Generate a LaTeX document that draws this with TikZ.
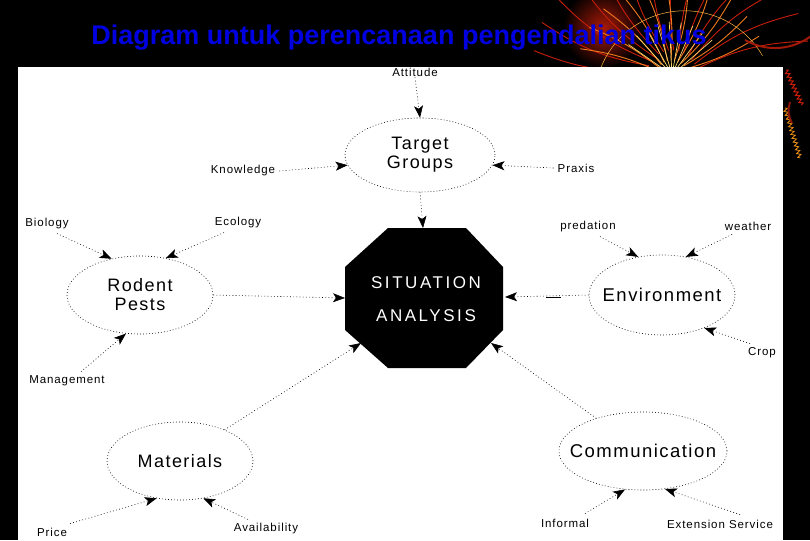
\documentclass[tikz,border=0pt]{standalone}
\usepackage{fontspec}
\setmainfont{Liberation Sans}
\newfontfamily\diagfont[LetterSpace=8]{Liberation Sans}
\newfontfamily\octfont[LetterSpace=15]{Liberation Sans}
\usetikzlibrary{shapes.geometric,arrows.meta,decorations.pathmorphing}
\definecolor{titleblue}{RGB}{0,0,225}
\definecolor{fwred}{RGB}{200,30,10}
\definecolor{fworange}{RGB}{240,120,30}
\definecolor{fwyellow}{RGB}{250,215,110}
\tikzset{
  lbl/.style={font=\diagfont\fontsize{11.5}{13}\selectfont, inner sep=1pt},
  bubble/.style={ellipse, draw=black, line width=0.6pt, dash pattern=on 0.8pt off 2.2pt,
    inner sep=0pt},
  btext/.style={font=\diagfont\fontsize{18}{21}\selectfont, align=center, inner sep=0pt},
  conn/.style={black, line width=0.6pt, dash pattern=on 0.8pt off 2.4pt,
    -{Stealth[length=12pt,width=9pt,inset=3pt]}},
  ray/.style={line width=0.9pt, line cap=round}
}
\begin{document}
\begin{tikzpicture}[x=1pt,y=-1pt]
\useasboundingbox (0,0) rectangle (810,540);
\fill[black] (0,0) rectangle (810,540);
% firework decoration (top right)
\shade[inner color=fwred!85!black, outer color=black] (603,28) circle (40);
\foreach \a in {190,202,...,350}{
  \draw[ray, fwred] (672,75) ++(\a:25) to[bend left=12] ++(\a:115);
}
\foreach \a in {196,210,...,344}{
  \draw[ray, fworange] (672,75) ++(\a:15) to[bend right=8] ++(\a:80);
}
\foreach \a in {215,228,...,325}{
  \draw[ray, fwyellow, line width=0.7pt] (672,75) ++(\a:8) -- ++(\a:45);
}
\draw[fwyellow!60!orange, line width=0.5pt] (600,70) arc (200:330:90);
\draw[fwred!80!black, line width=2pt] (745,40) arc (120:40:60);
% white panel
\fill[white] (18,67) rectangle (783,540);
% right edge squiggles
\draw[fwred, line width=1pt, decorate, decoration={zigzag, segment length=4pt, amplitude=2pt}] (786,70) -- (802,105);
\draw[fworange!80!yellow, line width=0.8pt, decorate, decoration={zigzag, segment length=4pt, amplitude=2pt}] (785,108) -- (800,158);
\draw[fwred!70!black, line width=2pt] (790,102) arc (200:150:25);
% title
\node[font=\fontsize{27}{30}\selectfont\bfseries, text=titleblue, anchor=base] (title) at (399,45) {Diagram untuk perencanaan pengendalian tikus};

% central octagon
\coordinate (o1) at (388,228); \coordinate (o2) at (466,228);
\coordinate (o3) at (503,267); \coordinate (o4) at (503,330);
\coordinate (o5) at (466,368); \coordinate (o6) at (388,368);
\coordinate (o7) at (345,330); \coordinate (o8) at (345,267);
\fill[black] (o1) -- (o2) -- (o3) -- (o4) -- (o5) -- (o6) -- (o7) -- (o8) -- cycle;
\node[font=\octfont\fontsize{17}{20}\selectfont, text=white] (sit) at (426,283) {SITUATION};
\node[font=\octfont\fontsize{17}{20}\selectfont, text=white] (ana) at (426,316) {ANALYSIS};
\coordinate (otop) at (423,228);
\coordinate (oleft) at (345,298);
\coordinate (oright) at (505,297);
\coordinate (osw) at (361,343);
\coordinate (ose) at (491,343);

% bubbles
\node[bubble, minimum width=150pt, minimum height=74pt] (tg) at (420,155) {};
\node[btext] (tgt) at (tg.center) {Target\\[-2pt]Groups};
\node[bubble, minimum width=146pt, minimum height=78pt] (rp) at (140,295) {};
\node[btext] (rpt) at (rp.center) {Rodent\\[-2pt]Pests};
\node[bubble, minimum width=146pt, minimum height=80pt] (env) at (662,295) {};
\node[btext, font=\diagfont\fontsize{18.5}{20}\selectfont] (envt) at (env.center) {Environment};
\node[bubble, minimum width=146pt, minimum height=78pt] (mat) at (180,461) {};
\node[btext, font=\diagfont\fontsize{18}{20}\selectfont] (matt) at (mat.center) {Materials};
\node[bubble, minimum width=168pt, minimum height=78pt] (com) at (643,451) {};
\node[btext, font=\diagfont\fontsize{18.5}{20}\selectfont] (comt) at (com.center) {Communication};

% labels
\node[lbl] (att) at (415,72) {Attitude};
\node[lbl] (know) at (243,171) {Knowledge};
\node[lbl] (prax) at (576,168) {Praxis};
\node[lbl] (bio) at (47,224) {Biology};
\node[lbl] (eco) at (238,223) {Ecology};
\node[lbl] (mgmt) at (67,381) {Management};
\node[lbl] (pred) at (588,227) {predation};
\node[lbl] (weath) at (748,226) {weather};
\node[lbl] (crop) at (762,353) {Crop};
\node[lbl] (price) at (52,532) {Price};
\node[lbl] (avail) at (266,529) {Availability};
\node[lbl] (inf) at (565,523) {Informal};
\node[lbl] (ext) at (720,524) {Extension Service};

% connectors
\draw[conn] (att.south) -- (tg.north);
\draw[conn] ([xshift=3pt]know.east) -- (tg.188);
\draw[conn] ([xshift=-3pt]prax.west) -- (tg.352);
\draw[conn] (tg.south) -- (otop);
\draw[conn] ([xshift=10pt,yshift=-3pt]bio.south) -- (rp.128);
\draw[conn] ([xshift=-14pt,yshift=-3pt]eco.south) -- (rp.55);
\draw[conn] ([xshift=14pt,yshift=3pt]mgmt.north) -- (rp.250);
\draw[conn] (rp.east) -- (oleft);
\draw[conn] ([xshift=12pt,yshift=-3pt]pred.south) -- (env.122);
\draw[conn] ([xshift=-16pt,yshift=-3pt]weath.south) -- (env.58);
\draw[conn] ([xshift=-12pt,yshift=3pt]crop.north) -- (env.322);
\draw[conn] (env.west) -- (oright);
\draw[line width=0.8pt] (546,297) -- (561,297);
\draw[conn] ([xshift=18pt,yshift=3pt]price.north) -- (mat.238);
\draw[conn] ([xshift=-18pt,yshift=3pt]avail.north) -- (mat.302);
\draw[conn] (mat.35) -- (osw);
\draw[conn] (com.145) -- (ose);
\draw[conn] ([xshift=20pt,yshift=4pt]inf.north) -- (com.245);
\draw[conn] ([xshift=20pt,yshift=4pt]ext.north) -- (com.300);
\end{tikzpicture}
\end{document}
